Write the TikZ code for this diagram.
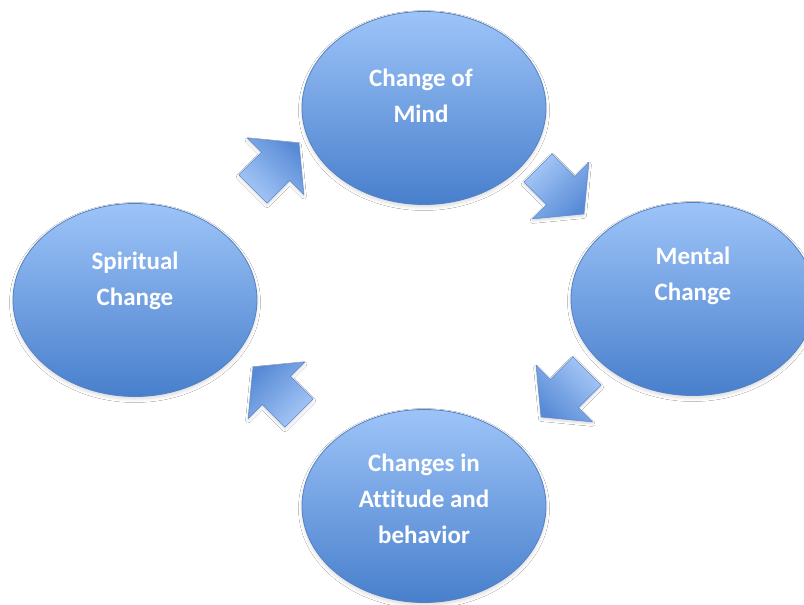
\documentclass[tikz,border=0pt]{standalone}
\usepackage{fontspec}
\setmainfont{Carlito}[Ligatures=NoCommon]
\usetikzlibrary{shapes.geometric,shadows.blur}

\definecolor{bubbletop}{RGB}{157,196,248}
\definecolor{bubblebot}{RGB}{72,127,204}
\definecolor{bubbleedge}{RGB}{86,130,196}
\definecolor{arrowlight}{RGB}{168,201,248}
\definecolor{arrowdark}{RGB}{88,139,214}
\definecolor{arrowedge}{RGB}{92,136,204}

\tikzset{
  bubble/.style={ellipse, draw=bubbleedge, line width=0.8pt,
    top color=bubbletop, bottom color=bubblebot,
    minimum width=244pt, minimum height=193pt, inner sep=0pt,
    blur shadow={shadow xshift=0pt, shadow yshift=-2.5pt,
      shadow blur radius=3.5pt, shadow opacity=15}},
  bubbletext/.style={text=white, align=center, inner sep=0pt,
    font=\bfseries\fontsize{25}{36}\selectfont},
  arrowbody/.style={draw=arrowedge, line width=0.5pt,
    bottom color=arrowlight, top color=arrowdark,
    blur shadow={shadow xshift=0pt, shadow yshift=-2pt,
      shadow blur radius=2.5pt, shadow opacity=15}},
  % block arrow: tail at the origin, pointing along +x
  pics/blockarrow/.style={code={
    \path[arrowbody, shading angle=#1]
      (0,-20) -- (32,-20) -- (32,-40) -- (65,0) -- (32,40) -- (32,20)
      -- (0,20) -- cycle;
  }},
}

\begin{document}
\begin{tikzpicture}[x=1pt, y=-1pt]
  \clip (0,0) rectangle (804,605);
  \fill[white] (0,0) rectangle (804,605);

  % the four stages
  \node[bubble] (mind)     at (424,108) {};
  \node[bubble] (mental)   at (693,299) {};
  \node[bubble] (attitude) at (424,506) {};
  \node[bubble] (spirit)   at (135,300) {};

  % labels, placed by the baseline of their last line
  \node[bubbletext, anchor=base] (mindtext)     at (421,122) {Change of\\Mind};
  \node[bubbletext, anchor=base] (mentaltext)   at (693,300) {Mental\\Change};
  \node[bubbletext, anchor=base] (attitudetext) at (424,543) {Changes in\\Attitude and\\behavior};
  \node[bubbletext, anchor=base] (spirittext)   at (135,305) {Spiritual\\Change};

  % arrows running clockwise between the stages
  \pic[rotate=45]   at (253,189) {blockarrow=-45};
  \pic[rotate=-45]  at (538,168) {blockarrow=-135};
  \pic[rotate=-135] at (587,371) {blockarrow=135};
  \pic[rotate=135]  at (299,413) {blockarrow=45};
\end{tikzpicture}
\end{document}
